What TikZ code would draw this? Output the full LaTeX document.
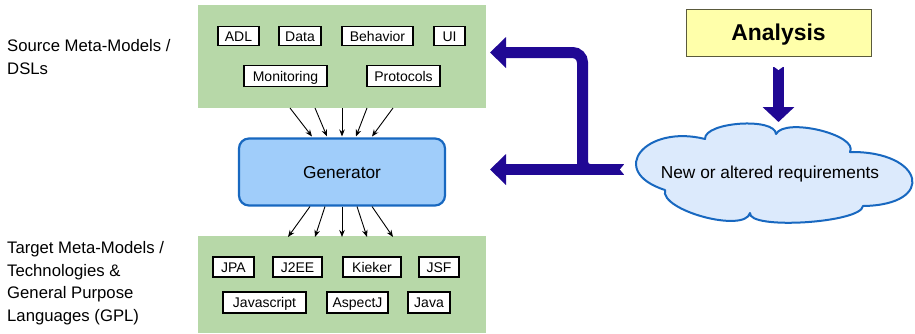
\documentclass[tikz,border=0pt]{standalone}
\usepackage{fontspec}
\setmainfont{Liberation Sans}
\usetikzlibrary{arrows.meta}
\definecolor{panelgreen}{RGB}{183,216,168}
\definecolor{genfill}{RGB}{160,205,250}
\definecolor{genborder}{RGB}{24,104,192}
\definecolor{cloudfill}{RGB}{220,234,252}
\definecolor{notefill}{RGB}{255,255,170}
\definecolor{noteborder}{RGB}{90,90,60}
\definecolor{flowblue}{RGB}{32,8,148}
\begin{document}
\begin{tikzpicture}[x=1pt,y=-1pt,
  panel/.style={fill=panelgreen, draw=none, inner sep=0pt, anchor=north west},
  tag/.style={draw=black, line width=1.1pt, fill=white, inner sep=0pt,
    text height=10pt, text depth=0pt, font=\fontsize{14}{16}\selectfont},
  sidelabel/.style={anchor=base west, inner sep=0pt, font=\fontsize{16.7}{20}\selectfont},
  feed/.style={line width=0.9pt, -{Stealth[length=7pt,width=5.5pt]}},
  bigflow/.style={flowblue, line width=11pt, -{Triangle[width=30pt,length=16pt]}},
]
\useasboundingbox (0,0) rectangle (915,333);

% side labels
\node[sidelabel] (srcA) at (7,51.5) {Source Meta-Models /};
\node[sidelabel] (srcB) at (7,74) {DSLs};
\node[sidelabel] (tgtA) at (7,253.5) {Target Meta-Models /};
\node[sidelabel] (tgtB) at (7,276) {Technologies \&};
\node[sidelabel] (tgtC) at (7,298.5) {General Purpose};
\node[sidelabel] (tgtD) at (7,321) {Languages (GPL)};

% source panel
\node[panel, minimum width=288pt, minimum height=103pt] (src) at (198,5) {};
\node[tag, minimum width=41pt, minimum height=19pt] (adl) at (238.5,36) {ADL};
\node[tag, minimum width=42pt, minimum height=19pt] (data) at (300,36) {Data};
\node[tag, minimum width=71pt, minimum height=19pt] (beh) at (377.5,36) {Behavior};
\node[tag, minimum width=31pt, minimum height=19pt] (ui) at (449.5,36) {UI};
\node[tag, minimum width=83pt, minimum height=21pt] (mon) at (285.5,76) {Monitoring};
\node[tag, minimum width=73pt, minimum height=21pt] (prot) at (403.5,76) {Protocols};

% target panel
\node[panel, minimum width=288pt, minimum height=97pt] (tgt) at (198,236) {};
\node[tag, minimum width=41pt, minimum height=20pt] (jpa) at (233.5,267) {JPA};
\node[tag, minimum width=49pt, minimum height=20pt] (jee) at (297.5,267) {J2EE};
\node[tag, minimum width=58pt, minimum height=20pt] (kie) at (372,267) {Kieker};
\node[tag, minimum width=40pt, minimum height=20pt] (jsf) at (439,267) {JSF};
\node[tag, minimum width=83pt, minimum height=21pt] (js) at (264.5,302.5) {Javascript};
\node[tag, minimum width=61pt, minimum height=21pt] (asp) at (357.5,302.5) {AspectJ};
\node[tag, minimum width=42pt, minimum height=21pt] (java) at (429,302.5) {Java};

% generator
\node[fill=genfill, draw=genborder, line width=2.2pt, rounded corners=10pt,
  minimum width=206pt, minimum height=67pt, inner sep=0pt,
  text height=12.4pt, text depth=0pt,
  font=\fontsize{17.3}{20}\selectfont] (gen) at (342,172) {Generator};

% inputs to the generator
\foreach \i/\a/\b in {1/290/312,2/315/327,3/342/342,4/367/356,5/393/372}{
  \coordinate (in\i) at (\a,108);
  \coordinate (gi\i) at (\b,136.5);
  \draw[feed] (in\i) -- (gi\i);
}
% outputs of the generator
\foreach \i/\a/\b in {1/310/288,2/325/315,3/342/342,4/357/367,5/372/393}{
  \coordinate (go\i) at (\a,206.5);
  \coordinate (out\i) at (\b,237);
  \draw[feed] (go\i) -- (out\i);
}

% analysis
\node[fill=notefill, draw=noteborder, line width=1pt, minimum width=185pt,
  minimum height=47pt, inner sep=0pt, text height=16.4pt, text depth=0pt,
  font=\fontsize{22.9}{26}\bfseries] (ana) at (778.5,32.5) {Analysis};

% requirements cloud: six puffs between the notch points
\filldraw[fill=cloudfill, draw=genborder, line width=2pt, line join=round]
  (665,190) .. controls (606,171) and (646,124) .. (705,139)
  .. controls (704,122) and (775,117) .. (776,134)
  .. controls (785,117) and (859,135) .. (850,152)
  .. controls (924,151) and (937,205) .. (863,206)
  .. controls (861,223) and (748,230) .. (750,213)
  .. controls (744.5,233.4) and (659.5,210.4) .. (665,190) -- cycle;
\node[inner sep=0pt, text height=12.4pt, text depth=0pt,
  font=\fontsize{17.3}{20}\selectfont] (req) at (770,172.5) {New or altered requirements};

% analysis feeds the requirements
\coordinate (anaOut) at (778.5,66.5);
\coordinate (reqIn) at (778.5,122);
\draw[flowblue, line width=10.5pt, -{Triangle[width=31pt,length=15pt]}] (anaOut) -- (reqIn);
\fill[white] (773,66) -- (778.5,70) -- (784,66) -- cycle;

% requirements flow back to generator and source models
\coordinate (reqOut) at (624,169.5);
\coordinate (genIn) at (490,169.5);
\coordinate (turn) at (582.5,169.5);
\coordinate (srcIn) at (490,52.5);
\draw[bigflow] (reqOut) -- (genIn);
\draw[bigflow, rounded corners=10pt] (turn) -- (582.5,52.5) -- (srcIn);
\fill[flowblue] (587.5,156) .. controls (587.5,164.5) .. (597,164.5) -- (587.5,164.5) -- cycle;
\fill[white] (624.5,164) -- (620,169.5) -- (624.5,175) -- cycle;
\end{tikzpicture}
\end{document}
